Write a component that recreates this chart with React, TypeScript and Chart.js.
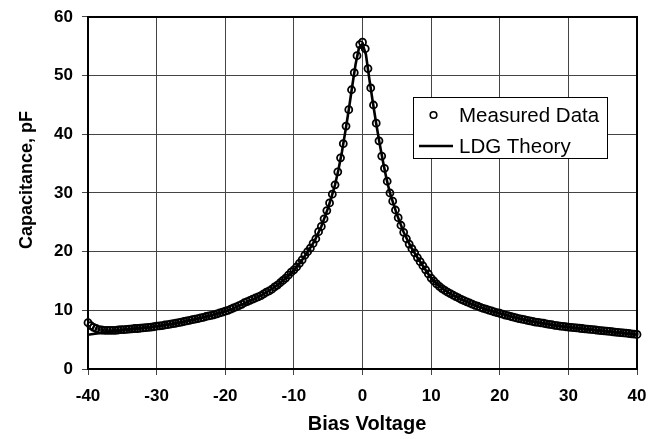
import React, { useEffect, useRef } from "react";
import { Chart, registerables } from "chart.js";

Chart.register(...registerables);

// Measured bias voltages (V)
const measuredVoltage: number[] = [
  -40, -39.6, -39.2, -38.8, -38.4, -38, -37.6, -37.2, -36.8, -36.4,
  -36, -35.6, -35.2, -34.8, -34.4, -34, -33.6, -33.2, -32.8, -32.4,
  -32, -31.6, -31.2, -30.8, -30.4, -30, -29.6, -29.2, -28.8, -28.4,
  -28, -27.6, -27.2, -26.8, -26.4, -26, -25.6, -25.2, -24.8, -24.4,
  -24, -23.6, -23.2, -22.8, -22.4, -22, -21.6, -21.2, -20.8, -20.4,
  -20, -19.6, -19.2, -18.8, -18.4, -18, -17.6, -17.2, -16.8, -16.4,
  -16, -15.6, -15.2, -14.8, -14.4, -14, -13.6, -13.2, -12.8, -12.4,
  -12, -11.6, -11.2, -10.8, -10.4, -10, -9.6, -9.2, -8.8, -8.4,
  -8, -7.6, -7.2, -6.8, -6.4, -6, -5.6, -5.2, -4.8, -4.4,
  -4, -3.6, -3.2, -2.8, -2.4, -2, -1.6, -1.2, -0.8, -0.4,
  0,
  0.4, 0.8, 1.2, 1.6, 2, 2.4, 2.8, 3.2, 3.6, 4,
  4.4, 4.8, 5.2, 5.6, 6, 6.4, 6.8, 7.2, 7.6, 8,
  8.4, 8.8, 9.2, 9.6, 10, 10.4, 10.8, 11.2, 11.6, 12,
  12.4, 12.8, 13.2, 13.6, 14, 14.4, 14.8, 15.2, 15.6, 16,
  16.4, 16.8, 17.2, 17.6, 18, 18.4, 18.8, 19.2, 19.6, 20,
  20.4, 20.8, 21.2, 21.6, 22, 22.4, 22.8, 23.2, 23.6, 24,
  24.4, 24.8, 25.2, 25.6, 26, 26.4, 26.8, 27.2, 27.6, 28,
  28.4, 28.8, 29.2, 29.6, 30, 30.4, 30.8, 31.2, 31.6, 32,
  32.4, 32.8, 33.2, 33.6, 34, 34.4, 34.8, 35.2, 35.6, 36,
  36.4, 36.8, 37.2, 37.6, 38, 38.4, 38.8, 39.2, 39.6, 40,
];

// Measured capacitance (pF)
const measuredCapacitance: number[] = [
  7.9, 7.4, 7.1, 6.9, 6.7, 6.65, 6.6, 6.6, 6.6, 6.6,
  6.6, 6.65, 6.7, 6.7, 6.75, 6.8, 6.85, 6.9, 6.9, 6.95,
  7.0, 7.05, 7.1, 7.15, 7.2, 7.3, 7.35, 7.4, 7.5, 7.55,
  7.65, 7.75, 7.8, 7.9, 8.0, 8.1, 8.2, 8.3, 8.4, 8.5,
  8.6, 8.7, 8.8, 8.95, 9.05, 9.15, 9.25, 9.4, 9.55, 9.7,
  9.85, 10.0, 10.2, 10.4, 10.6, 10.8, 11.0, 11.3, 11.5, 11.7,
  11.9, 12.1, 12.3, 12.5, 12.8, 13.1, 13.3, 13.6, 14.0, 14.3,
  14.7, 15.1, 15.5, 16.0, 16.5, 16.9, 17.4, 18.0, 18.6, 19.4,
  20.0, 20.6, 21.4, 22.2, 23.4, 24.3, 25.6, 27.0, 28.3, 29.8,
  31.4, 33.6, 36.0, 38.4, 41.4, 44.2, 47.6, 50.5, 53.4, 55.3,
  55.7,
  54.6, 51.2, 47.9, 45.0, 41.9, 38.9, 36.3, 34.2, 32.0, 30.0,
  28.6, 27.1, 25.8, 24.5, 23.3, 22.2, 21.3, 20.5, 19.8, 19.0,
  18.3, 17.6, 16.9, 16.2, 15.5, 15.0, 14.5, 14.1, 13.7, 13.4,
  13.1, 12.85, 12.6, 12.35, 12.1, 11.85, 11.65, 11.45, 11.25, 11.05,
  10.85, 10.7, 10.5, 10.35, 10.2, 10.05, 9.9, 9.75, 9.6, 9.5,
  9.35, 9.2, 9.1, 8.95, 8.85, 8.7, 8.6, 8.5, 8.4, 8.3,
  8.2, 8.1, 8.0, 7.95, 7.85, 7.8, 7.7, 7.6, 7.55, 7.45,
  7.4, 7.3, 7.25, 7.2, 7.15, 7.1, 7.05, 7.0, 6.95, 6.9,
  6.85, 6.8, 6.75, 6.7, 6.65, 6.6, 6.55, 6.5, 6.45, 6.4,
  6.35, 6.3, 6.25, 6.2, 6.15, 6.1, 6.05, 6.0, 5.95, 5.9,
];

// LDG theory curve
const theoryVoltage: number[] = [
  -40, -39, -38, -37, -36, -35, -34, -33, -32, -31,
  -30, -29, -28, -27, -26, -25, -24, -23, -22, -21,
  -20, -19, -18, -17, -16, -15, -14, -13, -12, -11,
  -10, -9, -8, -7, -6,
  -5, -4.5, -4, -3.5, -3, -2.5, -2, -1.5, -1, -0.5,
  0,
  0.5, 1, 1.5, 2, 2.5, 3, 3.5, 4, 4.5, 5,
  6, 7, 8, 9, 10, 11, 12, 13, 14, 15,
  16, 17, 18, 19, 20, 21, 22, 23, 24, 25,
  26, 27, 28, 29, 30, 31, 32, 33, 34, 35,
  36, 37, 38, 39, 40,
];

const theoryCapacitance: number[] = [
  5.85, 6.0, 6.15, 6.3, 6.45, 6.6, 6.75, 6.88, 7.0, 7.12,
  7.28, 7.45, 7.62, 7.82, 8.05, 8.3, 8.55, 8.85, 9.12, 9.45,
  9.82, 10.25, 10.75, 11.3, 11.85, 12.4, 13.05, 13.8, 14.65, 15.7,
  16.85, 18.25, 19.95, 21.8, 24.3,
  27.5, 29.4, 31.4, 34.0, 37.0, 40.5, 44.2, 48.2, 52.0, 54.8,
  55.4,
  53.6, 49.4, 45.5, 41.8, 38.4, 35.3, 32.4, 30.0, 28.2, 26.4,
  23.3, 20.9, 19.0, 17.2, 15.5, 14.3, 13.4, 12.7, 12.1, 11.55,
  11.05, 10.6, 10.2, 9.8, 9.5, 9.15, 8.85, 8.57, 8.3, 8.05,
  7.85, 7.65, 7.47, 7.3, 7.15, 6.98, 6.85, 6.72, 6.6, 6.48,
  6.35, 6.23, 6.1, 5.98, 5.85,
];

const seriesNames: string[] = ["Measured Data", "LDG Theory"];
const xTitle = "Bias Voltage";
const yTitle = "Capacitance, pF";
const xRange: number[] = [-40, 40, 10];
const yRange: number[] = [0, 60, 10];

const FONT = '"Liberation Sans", Arial, Helvetica, sans-serif';

const decorPlugin = {
  id: "decor",
  beforeDatasetsDraw(chart: any) {
    const { ctx, chartArea: a } = chart;
    ctx.save();
    ctx.strokeStyle = "#000";
    ctx.lineWidth = 2;
    ctx.strokeRect(a.left, a.top, a.right - a.left, a.bottom - a.top);
    ctx.restore();
  },
  afterDraw(chart: any) {
    const { ctx } = chart;
    ctx.save();
    ctx.fillStyle = "#000";
    // x title
    ctx.font = `bold 20px ${FONT}`;
    ctx.textAlign = "center";
    ctx.textBaseline = "alphabetic";
    ctx.fillText(xTitle, 367, 430);
    // y title
    ctx.save();
    ctx.translate(32, 180);
    ctx.rotate(-Math.PI / 2);
    ctx.font = `bold 18px ${FONT}`;
    ctx.fillText(yTitle, 0, 0);
    ctx.restore();

    // legend
    const lx = 413.5, ly = 97.5, lw = 194, lh = 61;
    ctx.fillStyle = "#fff";
    ctx.fillRect(lx, ly, lw, lh);
    ctx.strokeStyle = "#000";
    ctx.lineWidth = 1;
    ctx.strokeRect(lx, ly, lw, lh);
    const dsM = chart.data.datasets[1];
    const dsT = chart.data.datasets[0];
    ctx.beginPath();
    ctx.arc(433.5, 115, 3.3, 0, Math.PI * 2);
    ctx.lineWidth = 1.6;
    ctx.strokeStyle = dsM.borderColor;
    ctx.stroke();
    ctx.beginPath();
    ctx.moveTo(419, 146);
    ctx.lineTo(453, 146);
    ctx.lineWidth = 2.6;
    ctx.strokeStyle = dsT.borderColor;
    ctx.stroke();
    ctx.fillStyle = "#000";
    ctx.font = `20.5px ${FONT}`;
    ctx.textAlign = "left";
    ctx.fillText(dsM.label, 459, 121.5);
    ctx.fillText(dsT.label, 459, 152.5);
    ctx.restore();
  },
};

export default function App() {
  const canvasRef = useRef<HTMLCanvasElement | null>(null);

  useEffect(() => {
    const canvas = canvasRef.current;
    if (!canvas) return;
    const measured = measuredVoltage.map((v, i) => ({ x: v, y: measuredCapacitance[i] }));
    const theory = theoryVoltage.map((v, i) => ({ x: v, y: theoryCapacitance[i] }));
    const chart = new Chart(canvas, {
      type: "scatter",
      data: {
        datasets: [
          {
            type: "line",
            label: seriesNames[1],
            data: theory,
            borderColor: "#000",
            borderWidth: 2.6,
            pointRadius: 0,
            tension: 0,
            fill: false,
            clip: false as any,
          },
          {
            type: "scatter",
            label: seriesNames[0],
            data: measured,
            borderColor: "#000",
            backgroundColor: "rgba(0,0,0,0)",
            pointRadius: 3.5,
            pointBorderWidth: 1.8,
            pointStyle: "circle",
            showLine: false,
            clip: false as any,
          },
        ],
      },
      options: {
        responsive: false,
        animation: false,
        events: [],
        layout: { padding: { top: 8, right: 33, left: 0, bottom: 0 } },
        plugins: {
          legend: { display: false },
          tooltip: { enabled: false },
          title: { display: false },
        },
        scales: {
          x: {
            type: "linear",
            min: xRange[0],
            max: xRange[1],
            ticks: {
              stepSize: xRange[2],
              color: "#000",
              font: { family: FONT, size: 17, weight: "bold" },
              padding: 11,
              maxRotation: 0,
            },
            grid: { color: "#444", lineWidth: 1, tickLength: 6, drawTicks: true },
            border: { display: false },
            afterFit: (scale: any) => {
              scale.height = 70;
            },
          },
          y: {
            type: "linear",
            min: yRange[0],
            max: yRange[1],
            ticks: {
              stepSize: yRange[2],
              color: "#000",
              font: { family: FONT, size: 17, weight: "bold", lineHeight: 0.94 },
              padding: 9,
            },
            grid: { color: "#444", lineWidth: 1, tickLength: 6, drawTicks: true },
            border: { display: false },
            afterFit: (scale: any) => {
              scale.width = 88;
            },
          },
        },
      },
      plugins: [decorPlugin],
    } as any);
    return () => chart.destroy();
  }, []);

  return (
    <div style={{ position: "fixed", left: 0, top: 0, width: 670, height: 439, background: "#fff" }}>
      <canvas ref={canvasRef} width={670} height={439} style={{ width: 670, height: 439, display: "block" }} />
    </div>
  );
}
